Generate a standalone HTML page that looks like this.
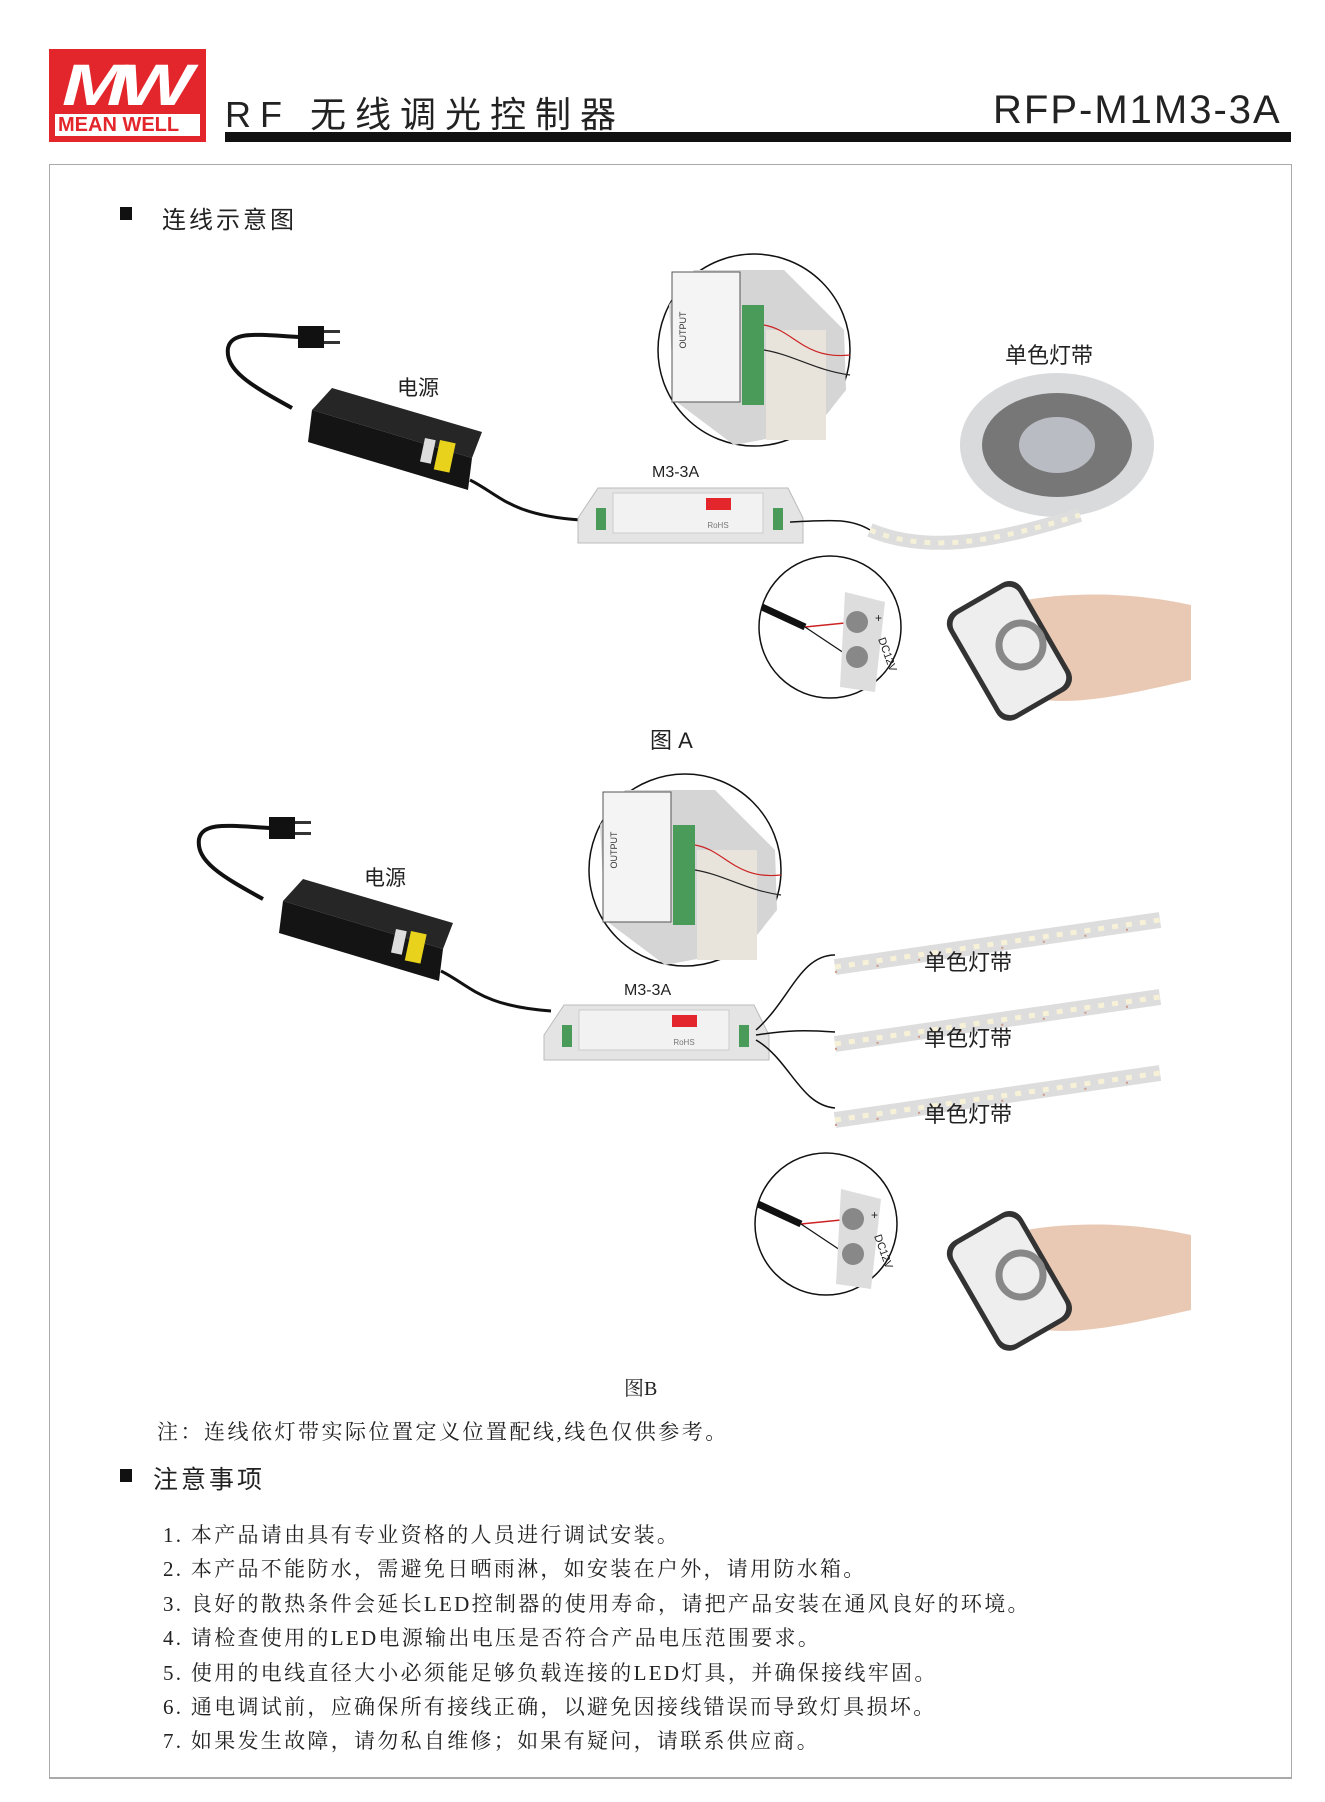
<!DOCTYPE html>
<html><head><meta charset="utf-8"><style>
html,body{margin:0;padding:0;background:#fff;}
body{width:1325px;height:1802px;position:relative;overflow:hidden;font-family:"Liberation Sans","Noto Sans CJK SC",sans-serif;color:#222;}
.a{position:absolute;white-space:nowrap;}
.s{font-family:"Liberation Serif","Noto Serif CJK SC",serif;}
</style></head><body>
<div class="a" style="left:49px;top:49px;width:157px;height:93px;background:#e3262b;"></div>
<div class="a" style="left:62px;top:52px;font:italic bold 58px 'Liberation Sans',sans-serif;color:#fff;letter-spacing:-6px;transform:scaleX(1.35);transform-origin:left;">MW</div>
<div class="a" style="left:55px;top:114px;width:145px;height:22px;background:#fff;"></div>
<div class="a" style="left:58px;top:114px;font:bold 20px 'Liberation Sans',sans-serif;color:#e3262b;line-height:22px;">MEAN WELL</div>
<div class="a" style="left:225px;top:86px;font-size:36px;letter-spacing:9px;">RF 无线调光控制器</div>
<div class="a" style="left:993px;top:88px;font-size:40px;letter-spacing:2px;">RFP-M1M3-3A</div>
<div class="a" style="left:225px;top:132px;width:1066px;height:10px;background:#111;"></div>
<div class="a" style="left:49px;top:164px;width:1241px;height:1612px;border:1px solid #aaa;border-bottom:2px solid #aaa;"></div>
<div class="a" style="left:120px;top:207px;width:12px;height:13px;background:#111;"></div>
<div class="a" style="left:162px;top:200px;font-size:24px;letter-spacing:3px;">连线示意图</div>

<svg class="a" style="left:0;top:0" width="1325" height="1802">
<defs>
<g id="adapter">
<path d="M292,408 C250,385 225,370 228,348 C232,330 260,335 300,337" fill="none" stroke="#111" stroke-width="4"/>
<rect x="298" y="326" width="26" height="22" fill="#111"/>
<rect x="324" y="330" width="16" height="3" fill="#333"/><rect x="324" y="341" width="16" height="3" fill="#333"/>
<polygon points="332,388 482,432 472,458 312,410" fill="#262626"/>
<polygon points="312,410 472,458 468,490 308,442" fill="#141414"/>
<rect x="440" y="440" width="16" height="30" fill="#e8d21c" transform="rotate(12 440 440)"/>
<rect x="425" y="438" width="11" height="24" fill="#ddd" transform="rotate(12 425 438)"/>
<path d="M470,480 C500,495 510,515 580,520" fill="none" stroke="#111" stroke-width="3"/>
</g>
<g id="ctrl">
<polygon points="0,30 20,0 210,0 225,30 225,55 0,55" fill="#e4e4e4" stroke="#bbb"/>
<rect x="35" y="5" width="150" height="40" fill="#f2f2f2" stroke="#ccc"/>
<rect x="128" y="10" width="25" height="12" fill="#e3262b"/>
<text x="140" y="40" font-size="8" fill="#777" text-anchor="middle">RoHS</text>
<rect x="18" y="20" width="10" height="22" fill="#4a9a5a"/><rect x="195" y="20" width="10" height="22" fill="#4a9a5a"/>
</g>
<g id="inset">
<circle r="96" fill="#fff" stroke="#111" stroke-width="1.5"/>
<path d="M-85,-45 L-60,-80 L30,-80 L60,-50 L90,-20 L92,40 L60,80 L-20,95 L-80,50 Z" fill="#d5d5d5"/>
<rect x="-82" y="-78" width="68" height="130" fill="#f4f4f4" stroke="#555"/>
<text transform="translate(-68,-20) rotate(-90)" font-size="9" fill="#333" text-anchor="middle">OUTPUT</text>
<rect x="-12" y="-45" width="22" height="100" fill="#4a9a5a"/>
<rect x="12" y="-20" width="60" height="110" fill="#e8e4dc"/>
<path d="M10,-25 C40,-20 50,10 96,5" fill="none" stroke="#c22" stroke-width="1.2"/>
<path d="M10,0 C40,5 60,20 96,25" fill="none" stroke="#222" stroke-width="1.2"/>
</g>
<g id="small">
<circle r="71" fill="#fff" stroke="#111" stroke-width="1.5"/>
<path d="M-68,-20 L-25,0" stroke="#111" stroke-width="7"/>
<path d="M-25,0 L25,-5" stroke="#c22" stroke-width="1.5"/><path d="M-25,0 L20,30" stroke="#111" stroke-width="1.2"/>
<polygon points="15,-35 55,-25 45,65 10,60" fill="#ddd"/>
<circle cx="27" cy="-5" r="11" fill="#888"/><circle cx="27" cy="30" r="11" fill="#888"/>
<text x="45" y="-5" font-size="12" fill="#222">+</text><text transform="translate(48,12) rotate(70)" font-size="11" fill="#222">DC12V</text>
</g>
<g id="remote">
<path d="M60,10 C120,0 180,5 225,15 L225,90 C180,100 120,115 80,110 C50,105 50,70 70,60 Z" fill="#e9c9b4"/>
<rect x="0" y="0" width="85" height="125" rx="15" fill="#333" transform="rotate(-30 40 60)"/>
<rect x="5" y="5" width="75" height="115" rx="12" fill="#eee" transform="rotate(-30 40 60)"/>
<circle cx="55" cy="55" r="22" fill="none" stroke="#888" stroke-width="7"/>
</g>
<g id="strip">
<path d="M0,12 L325,-35" stroke="#ddd" stroke-width="16"/>
<path d="M0,12 L325,-35" stroke="#f7f1d8" stroke-width="5" stroke-dasharray="6 8"/>
<path d="M0,12 L325,-35" stroke="#c98" stroke-width="2" stroke-dasharray="2 40" transform="translate(0,5)"/>
</g>
</defs>
<!-- Figure A -->
<use href="#adapter"/>
<use href="#ctrl" x="578" y="488"/>
<use href="#inset" x="754" y="350"/>
<path d="M790,522 C830,520 850,518 870,530" fill="none" stroke="#111" stroke-width="1.5"/>
<ellipse cx="1057" cy="445" rx="97" ry="72" fill="#d8dadc"/>
<ellipse cx="1057" cy="445" rx="75" ry="52" fill="#777"/>
<ellipse cx="1057" cy="445" rx="38" ry="28" fill="#b9bcc3"/>
<path d="M870,530 C930,555 1000,540 1080,515" stroke="#ddd" stroke-width="14" fill="none"/>
<path d="M870,530 C930,555 1000,540 1080,515" stroke="#f5f0d8" stroke-width="5" stroke-dasharray="6 8" fill="none"/>
<use href="#small" x="830" y="627"/>
<use href="#remote" x="966" y="590"/>
<!-- Figure B -->
<use href="#adapter" x="-29" y="491"/>
<use href="#ctrl" x="544" y="1005"/>
<use href="#inset" x="685" y="870"/>
<path d="M756,1030 C790,1000 800,955 835,955" fill="none" stroke="#111" stroke-width="1.5"/>
<path d="M756,1035 C790,1030 805,1030 835,1032" fill="none" stroke="#111" stroke-width="1.5"/>
<path d="M756,1040 C790,1060 800,1105 835,1108" fill="none" stroke="#111" stroke-width="1.5"/>
<use href="#strip" x="835" y="955"/>
<use href="#strip" x="835" y="1032"/>
<use href="#strip" x="835" y="1108"/>
<use href="#small" x="826" y="1224"/>
<use href="#remote" x="966" y="1220"/>
</svg>

<div class="a" style="left:397px;top:372px;font-size:21px;">电源</div>
<div class="a" style="left:652px;top:464px;font-size:16px;">M3-3A</div>
<div class="a" style="left:1005px;top:338px;font-size:22px;">单色灯带</div>
<div class="a" style="left:650px;top:723px;font-size:22px;">图 A</div>
<div class="a" style="left:364px;top:862px;font-size:21px;">电源</div>
<div class="a" style="left:624px;top:982px;font-size:16px;">M3-3A</div>
<div class="a" style="left:924px;top:945px;font-size:22px;">单色灯带</div>
<div class="a" style="left:924px;top:1021px;font-size:22px;">单色灯带</div>
<div class="a" style="left:924px;top:1097px;font-size:22px;">单色灯带</div>
<div class="a s" style="left:624px;top:1372px;font-size:20px;">图B</div>
<div class="a s" style="left:157px;top:1416px;font-size:21px;letter-spacing:2.5px;">注：连线依灯带实际位置定义位置配线,线色仅供参考。</div>
<div class="a" style="left:120px;top:1469px;width:12px;height:13px;background:#111;"></div>
<div class="a" style="left:153px;top:1460px;font-size:25px;letter-spacing:3px;">注意事项</div>
<div class="a s" style="left:163px;top:1518px;font-size:21px;line-height:34.4px;letter-spacing:2.3px;">
1. 本产品请由具有专业资格的人员进行调试安装。<br>
2. 本产品不能防水，需避免日晒雨淋，如安装在户外，请用防水箱。<br>
3. 良好的散热条件会延长LED控制器的使用寿命，请把产品安装在通风良好的环境。<br>
4. 请检查使用的LED电源输出电压是否符合产品电压范围要求。<br>
5. 使用的电线直径大小必须能足够负载连接的LED灯具，并确保接线牢固。<br>
6. 通电调试前，应确保所有接线正确，以避免因接线错误而导致灯具损坏。<br>
7. 如果发生故障，请勿私自维修；如果有疑问，请联系供应商。
</div>
</body></html>
